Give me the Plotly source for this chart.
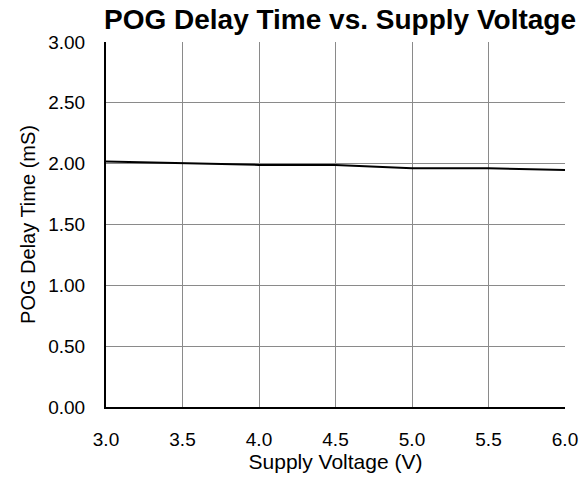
import plotly.graph_objects as go

voltage = [3.0, 3.5, 4.0, 4.5, 5.0, 5.5, 6.0]
delay_ms = [2.017, 2.005, 1.99, 1.99, 1.963, 1.963, 1.948]

x_ticks = [3.0, 3.5, 4.0, 4.5, 5.0, 5.5, 6.0]
x_tick_labels = ["3.0", "3.5", "4.0", "4.5", "5.0", "5.5", "6.0"]
y_ticks = [0, 0.5, 1.0, 1.5, 2.0, 2.5, 3.0]
y_tick_labels = ["0.00", "0.50", "1.00", "1.50", "2.00", "2.50", "3.00"]

fig = go.Figure()
fig.add_trace(go.Scatter(x=voltage, y=delay_ms, mode="lines",
                         line=dict(color="black", width=2), showlegend=False))

font = "Liberation Sans, Arial, sans-serif"
fig.update_layout(
    width=587, height=483,
    margin=dict(l=106, r=22, t=42, b=76, autoexpand=False),
    paper_bgcolor="white", plot_bgcolor="white",
    font=dict(family=font, color="black", size=19),
    title=dict(text="<b>POG Delay Time vs. Supply Voltage</b>",
               x=340 / 587, xanchor="center", xref="container",
               y=1 - 19 / 483, yanchor="middle", yref="container",
               font=dict(size=28, family=font, color="black")),
    xaxis=dict(range=[3.0, 6.0], tickvals=x_ticks, ticktext=x_tick_labels,
               showgrid=True, gridcolor="#8a8a8a", gridwidth=1,
               showline=True, linecolor="black", linewidth=2, mirror=False,
               ticks="", zeroline=False, ticklabelstandoff=14, automargin=False,
               title=dict(text="Supply Voltage (V)", font=dict(size=21), standoff=5)),
    yaxis=dict(range=[0, 3.0], tickvals=y_ticks, ticktext=y_tick_labels,
               showgrid=True, gridcolor="#8a8a8a", gridwidth=1,
               showline=True, linecolor="black", linewidth=2, mirror=False,
               ticks="", zeroline=False, ticklabelstandoff=15, automargin=False,
               title=dict(text="POG Delay Time (mS)", font=dict(size=20), standoff=7)),
)

fig.write_html("out.html", config={"displayModeBar": False},
               post_script="document.body.style.margin='0';document.body.style.overflow='hidden';")
